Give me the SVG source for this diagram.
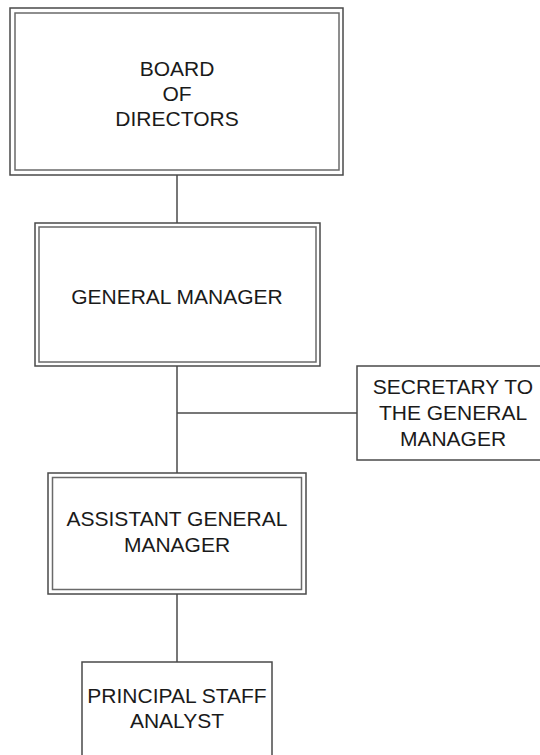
<svg xmlns="http://www.w3.org/2000/svg" width="540" height="755" viewBox="0 0 540 755">
<style>
.o{fill:#fff;stroke:#4a4a4a;stroke-width:1.5}
.i{fill:none;stroke:#6a6a6a;stroke-width:1.5}
.c{fill:none;stroke:#4a4a4a;stroke-width:1.5}
text{font-family:"Liberation Sans",Arial,sans-serif;font-size:21px;fill:#1a1a1a;text-anchor:middle}
</style>
<rect width="540" height="755" fill="#fff"/>
<g id="connectors">
<line class="c" x1="177" y1="175" x2="177" y2="223"/>
<line class="c" x1="177" y1="366" x2="177" y2="473"/>
<line class="c" x1="177" y1="413" x2="357" y2="413"/>
<line class="c" x1="177" y1="594" x2="177" y2="662"/>
</g>
<g id="board">
<rect class="o" x="10" y="8" width="333" height="167"/>
<rect class="i" x="15" y="13" width="324" height="157"/>
<text x="177" y="76">BOARD</text>
<text x="177" y="101">OF</text>
<text x="177" y="126">DIRECTORS</text>
</g>
<g id="gm">
<rect class="o" x="35" y="223" width="285" height="143"/>
<rect class="i" x="39" y="227" width="277" height="135"/>
<text x="177" y="304">GENERAL MANAGER</text>
</g>
<g id="secretary">
<rect class="o" x="357" y="366" width="192" height="94"/>
<text x="453" y="394">SECRETARY TO</text>
<text x="453" y="420">THE GENERAL</text>
<text x="453" y="446">MANAGER</text>
</g>
<g id="agm">
<rect class="o" x="48" y="473" width="258" height="121"/>
<rect class="i" x="52.5" y="477.5" width="249" height="112"/>
<text x="177" y="526">ASSISTANT GENERAL</text>
<text x="177" y="552">MANAGER</text>
</g>
<g id="psa">
<rect class="o" x="82" y="662" width="190" height="110"/>
<text x="177" y="703">PRINCIPAL STAFF</text>
<text x="177" y="728">ANALYST</text>
</g>
</svg>
